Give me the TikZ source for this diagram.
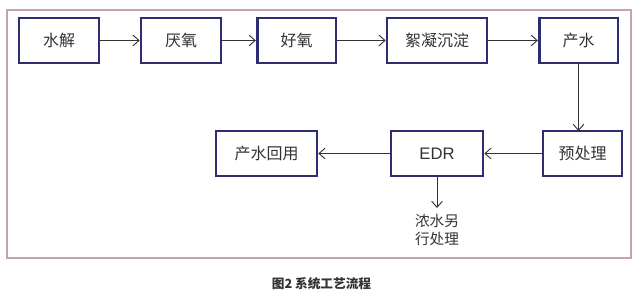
\documentclass[tikz,border=0pt]{standalone}
\usepackage{fontspec}
\setmainfont{Noto Sans CJK SC}
\newfontfamily\latinsans{Liberation Sans}
\usetikzlibrary{arrows.meta}
\definecolor{framecol}{HTML}{C9A2A9}
\definecolor{boxcol}{HTML}{2E2D72}
\definecolor{txtcol}{HTML}{333333}
\tikzset{
  procbox/.style={draw=boxcol, line width=2pt, fill=white, minimum height=33.75pt, inner sep=0pt, text=txtcol, font=\fontsize{12}{14}\selectfont},
  flow/.style={draw=txtcol, line width=0.7pt, -{Straight Barb[length=4.5pt,width=8pt,line width=0.7pt]}}
}
\begin{document}
\begin{tikzpicture}[x=0.75pt,y=-0.75pt]
\useasboundingbox (0,0) rectangle (641,299);
\fill[white] (0,0) rectangle (641,299);
\draw[framecol, line width=1.3pt] (7,10) rectangle (631,258);
% top row
\node[procbox, minimum width=60pt] (a) at (59,40.5) {水解};
\node[procbox, minimum width=60pt] (b) at (181,40.5) {厌氧};
\node[procbox, minimum width=59pt] (c) at (296.5,40.5) {好氧};
\node[procbox, minimum width=75pt] (d) at (437,40.5) {絮凝沉淀};
\node[procbox, minimum width=59pt] (e) at (578.5,40.5) {产水};
% bottom row
\node[procbox, minimum width=75.75pt] (h) at (266.5,153.5) {产水回用};
\node[procbox, minimum width=69pt] (g) at (437,153.5) {\latinsans\fontsize{12.5}{14}\selectfont EDR};
\node[procbox, minimum width=59.25pt] (f) at (582.5,153.5) {预处理};
\coordinate (etop) at (578.5,63);
\coordinate (fdown) at (578.5,131);
\coordinate (gend) at (437,208);
\node[text=txtcol, font=\fontsize{11}{13.5}\selectfont, align=center, anchor=north, inner sep=0pt] (t) at (437,214) {浓水另\\行处理};
\node[text=txtcol, font=\bfseries\fontsize{9.5}{11}\selectfont, inner sep=0pt] (cap) at (321.5,284) {图2 系统工艺流程};
\draw[flow] (a) -- (b);
\draw[flow] (b) -- (c);
\draw[flow] (c) -- (d);
\draw[flow] (d) -- (e);
\draw[flow] (e.south -| etop) -- (fdown);
\draw[flow] (f) -- (g);
\draw[flow] (g) -- (h);
\draw[flow] (g.south) -- (gend);
\end{tikzpicture}
\end{document}
